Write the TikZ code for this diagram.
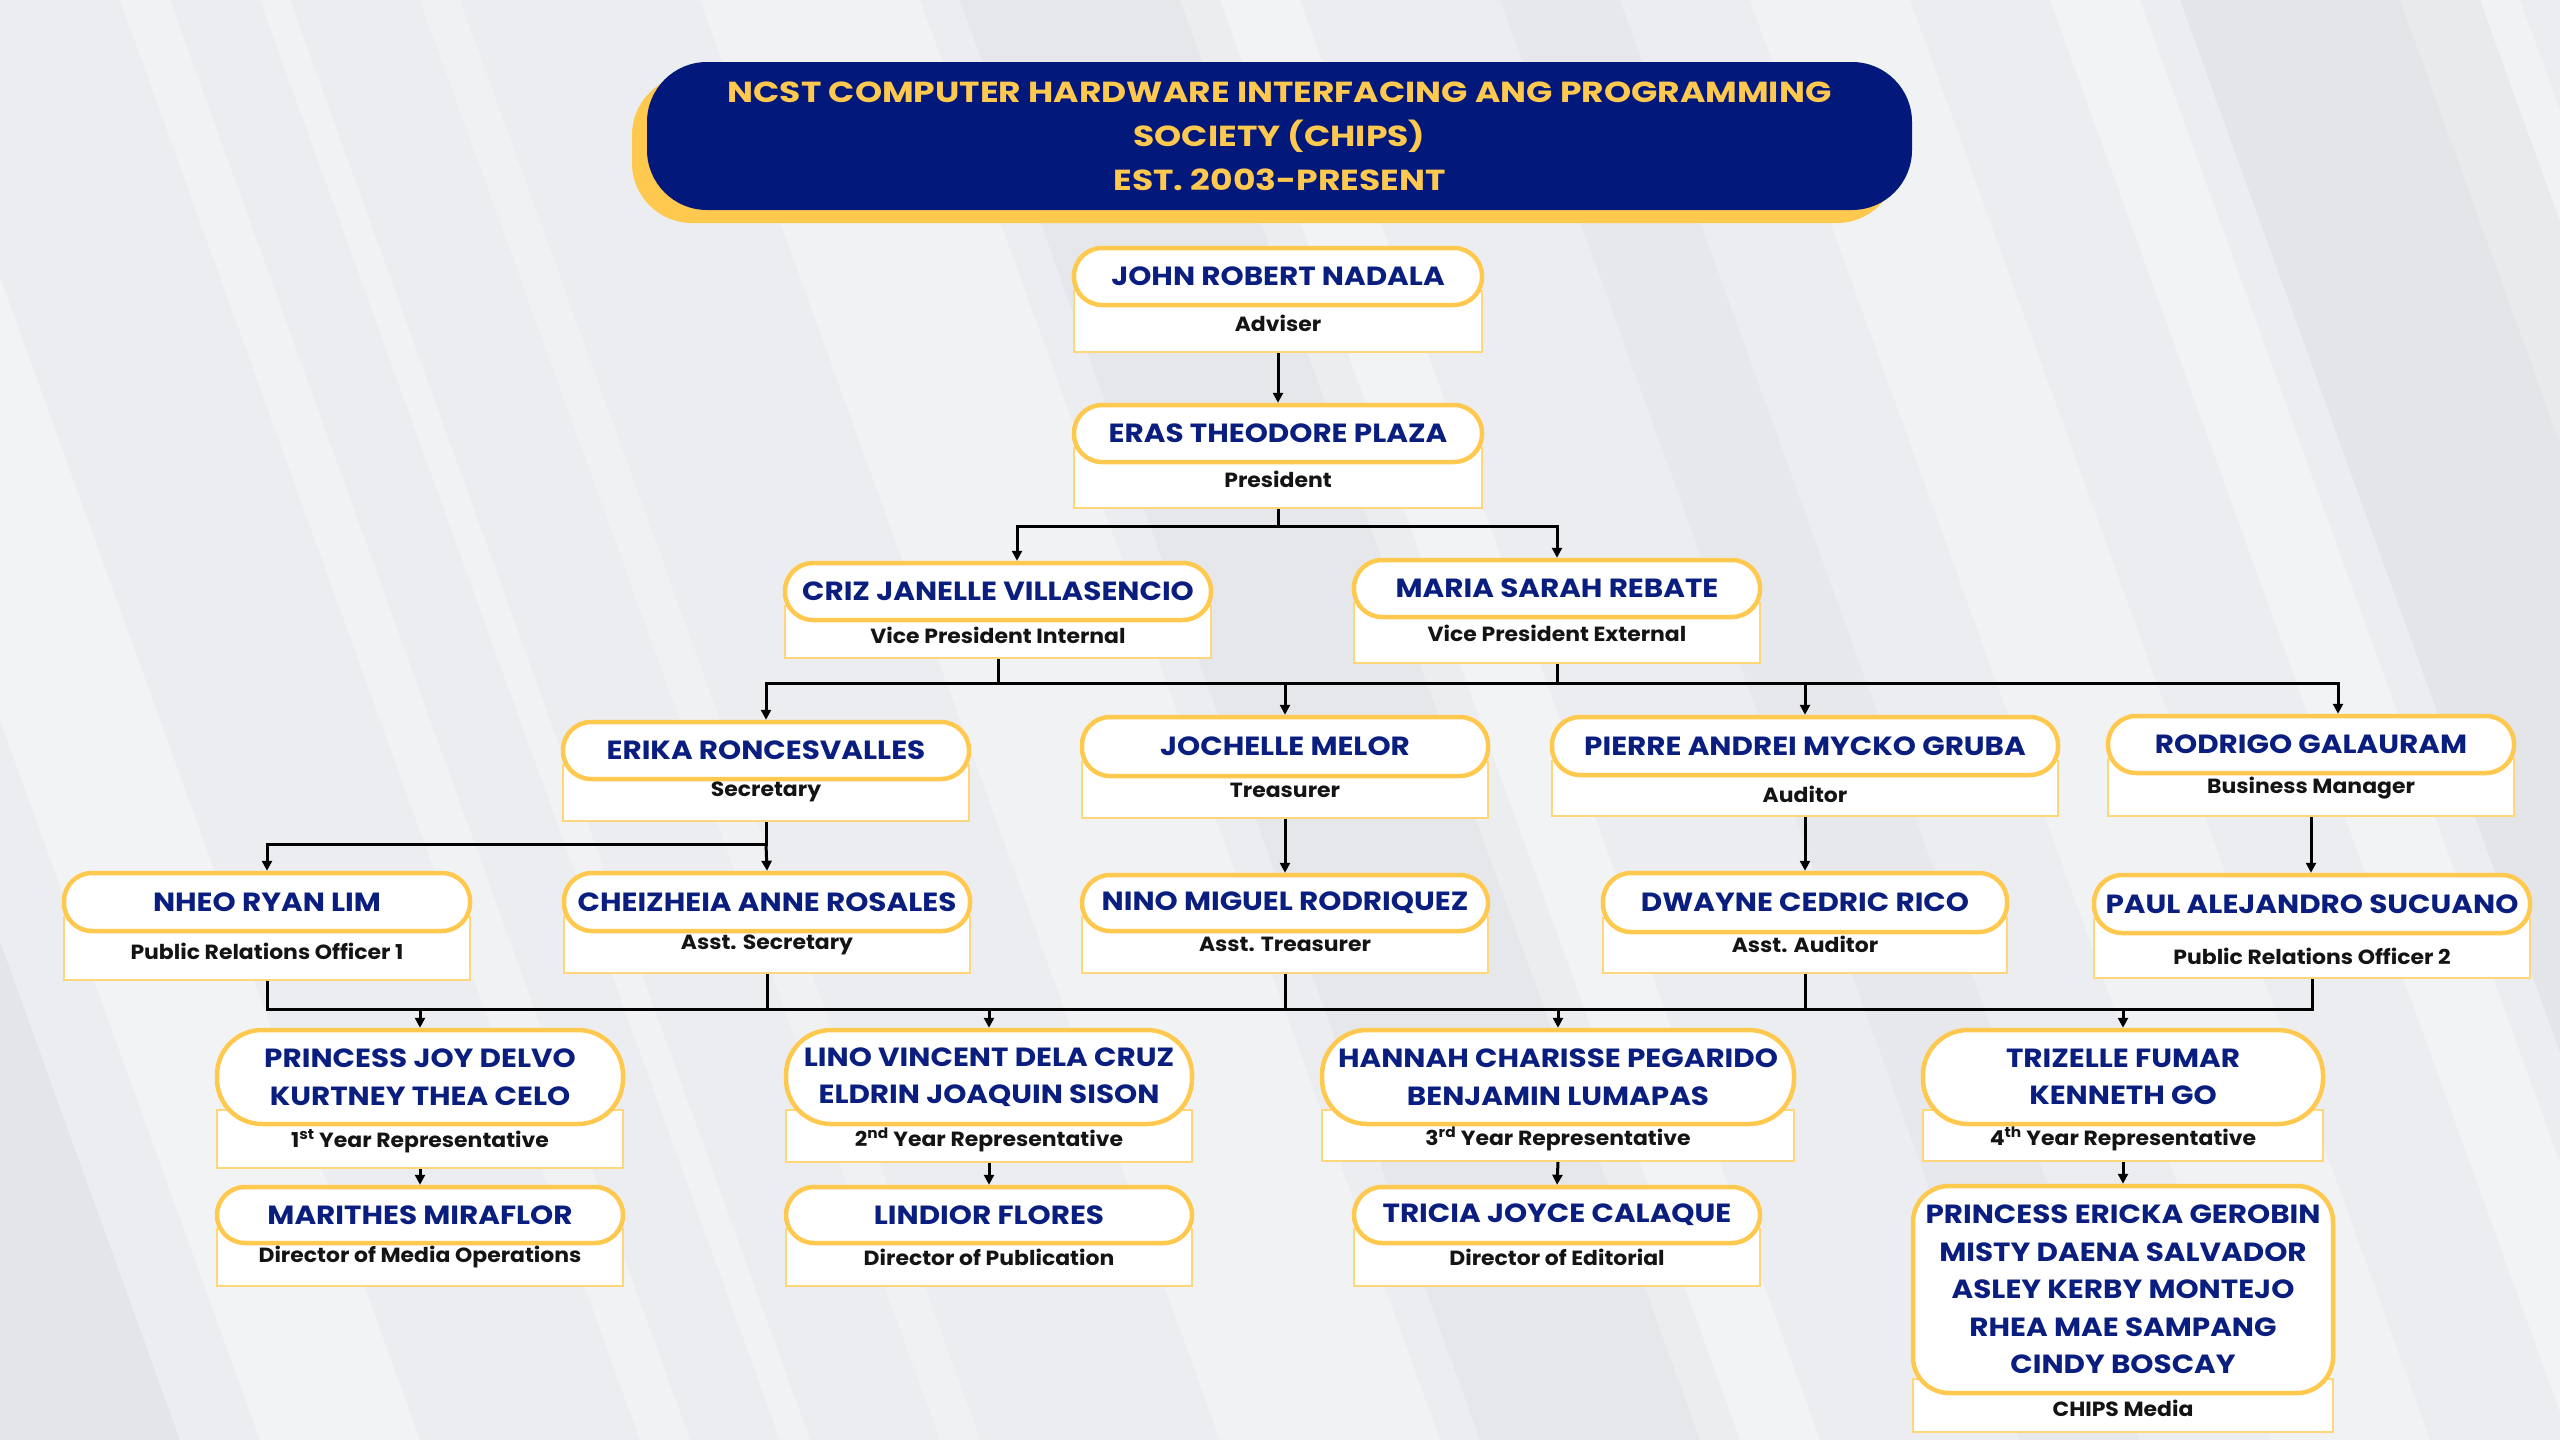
\documentclass[tikz,border=0pt]{standalone}
\usepackage{fontspec}
\setmainfont{Poppins}
\newfontfamily\namefont{Poppins}[FakeStretch=1.12]
\newfontfamily\titlefont{Poppins}[FakeStretch=1.19]
\newfontfamily\rolefont{Poppins}[FakeStretch=1.07]
\usetikzlibrary{arrows.meta,calc}
\definecolor{navy}{HTML}{02187A}
\definecolor{namecol}{HTML}{0A1E80}
\definecolor{gold}{HTML}{FFC94F}
\definecolor{goldlt}{HTML}{FFD67A}
\definecolor{bgcol}{HTML}{ECEDF0}
\definecolor{rolecol}{HTML}{141414}
\tikzset{
  rectbox/.style={draw=goldlt, line width=2, fill=white, inner sep=0},
  pillextra/.style={},
  pillbox/.style={draw=gold, line width=4.5, fill=white, rounded corners=28, inner sep=0,
    text=namecol, align=center, font={\namefont\fontsize{26.3}{37.5}\selectfont\bfseries}, pillextra},
  roletext/.style={text=rolecol, font={\rolefont\fontsize{20.5}{23}\selectfont\bfseries}, inner sep=0},
  line/.style={draw=black, line width=3, line join=miter},
  arr/.style={line, -{Triangle[length=10,width=10]}},
}
\newcommand{\orgbox}[9]{%
  \node[rectbox, minimum width={2*#3}, minimum height={#6-#5+14}] (#1-r) at (#2,{(#5-14+#6)/2}) {};
  \node[pillbox, minimum width={2*#3}, minimum height={#5-#4}] (#1) at (#2,{(#4+#5)/2}) {#7};
  \node[roletext] (#1-t) at (#2,#9) {#8};
}
\begin{document}
\begin{tikzpicture}[x=1pt,y=-1pt]
\useasboundingbox (0,0) rectangle (2560,1440);
% background
\fill[bgcol] (0,0) rectangle (2560,1440);
\foreach \a/\w/\o in {-260/160/0.35,120/50/0.3,260/30/0.3,420/40/0.25,700/220/0.3,1180/120/0.35,1750/160/0.3,2050/90/0.35,2400/120/0.3}
  \fill[white,opacity=\o] (\a,0) -- (\a+\w,0) -- (\a+\w+520,1440) -- (\a+520,1440) -- cycle;
\foreach \a/\w/\o in {-520/180/0.03,960/260/0.025,2180/300/0.03,1500/120/0.02}
  \fill[black,opacity=\o] (\a,0) -- (\a+\w,0) -- (\a+\w+520,1440) -- (\a+520,1440) -- cycle;
% title
\node[fill=gold, rounded corners=60, minimum width=1265, minimum height=148, inner sep=0] (tshadow) at (1264.5,149) {};
\node[fill=navy, rounded corners=60, minimum width=1265, minimum height=148, inner sep=0,
  text=gold, align=center, font={\titlefont\fontsize{29}{44}\selectfont\bfseries}] (title) at (1279.5,136)
  {NCST COMPUTER HARDWARE INTERFACING ANG PROGRAMMING\\SOCIETY (CHIPS)\\EST. 2003-PRESENT};
% nodes
\orgbox{adv}{1278}{204}{248}{305}{352}{JOHN ROBERT NADALA}{Adviser}{323}
\orgbox{pres}{1278}{204}{405}{462}{508}{ERAS THEODORE PLAZA}{President}{479}
\orgbox{vpi}{998}{213}{563}{620}{658}{CRIZ JANELLE VILLASENCIO}{Vice President Internal}{635}
\orgbox{vpe}{1557}{203}{560}{617}{663}{MARIA SARAH REBATE}{Vice President External}{633}
\orgbox{sec}{766}{203}{722}{779}{821}{ERIKA RONCESVALLES}{Secretary}{792}
\orgbox{tre}{1285}{203}{717}{776}{818}{JOCHELLE MELOR}{Treasurer}{790}
\orgbox{aud}{1805}{253}{717}{775}{816}{PIERRE ANDREI MYCKO GRUBA}{Auditor}{794}
\orgbox{bm}{2311}{203}{716}{773}{816}{RODRIGO GALAURAM}{Business Manager}{788}
\orgbox{pro1}{267}{203}{873}{931}{980}{NHEO RYAN LIM}{Public Relations Officer 1}{951}
\orgbox{asec}{767}{203}{873}{931}{973}{CHEIZHEIA ANNE ROSALES}{Asst. Secretary}{945}
\orgbox{atre}{1285}{203}{875}{931}{973}{NINO MIGUEL RODRIQUEZ}{Asst. Treasurer}{944}
\orgbox{aaud}{1805}{202}{873}{932}{973}{DWAYNE CEDRIC RICO}{Asst. Auditor}{944}
\orgbox{pro2}{2312}{218}{875}{933}{978}{PAUL ALEJANDRO SUCUANO}{Public Relations Officer 2}{956}
\tikzset{pillextra/.style={rounded corners=45}}
\orgbox{yr1}{420}{203}{1030}{1124}{1168}{PRINCESS JOY DELVO\\KURTNEY THEA CELO}{1\textsuperscript{st} Year Representative}{1141}
\orgbox{yr2}{989}{203}{1030}{1124}{1162}{LINO VINCENT DELA CRUZ\\ELDRIN JOAQUIN SISON}{2\textsuperscript{nd} Year Representative}{1140}
\orgbox{yr3}{1558}{236}{1030}{1124}{1161}{HANNAH CHARISSE PEGARIDO\\BENJAMIN LUMAPAS}{3\textsuperscript{rd} Year Representative}{1139}
\orgbox{yr4}{2123}{200}{1030}{1124}{1161}{TRIZELLE FUMAR\\KENNETH GO}{4\textsuperscript{th} Year Representative}{1139}
\tikzset{pillextra/.style={rounded corners=28}}
\orgbox{dmo}{420}{203}{1187}{1243}{1286}{MARITHES MIRAFLOR}{Director of Media Operations}{1257}
\orgbox{dpub}{989}{203}{1187}{1243}{1286}{LINDIOR FLORES}{Director of Publication}{1257}
\orgbox{ded}{1557}{203}{1187}{1243}{1286}{TRICIA JOYCE CALAQUE}{Director of Editorial}{1257}
\tikzset{pillextra/.style={rounded corners=36}}
\orgbox{media}{2123}{210}{1186}{1393}{1432}{PRINCESS ERICKA GEROBIN\\MISTY DAENA SALVADOR\\ASLEY KERBY MONTEJO\\RHEA MAE SAMPANG\\CINDY BOSCAY}{CHIPS Media}{1408}
% connectors
\coordinate (busA) at (0,526);
\coordinate (busB) at (0,683);
\coordinate (busC) at (0,844);
\coordinate (busD) at (0,1009);
\draw[arr] (adv-r.south) -- (pres.north);
\draw[arr] (pres-r.south) -- (pres-r.south |- busA) -| (1017,0 |- vpi.north);
\draw[arr] (pres-r.south |- busA) -| (vpe.north);
\draw[arr] (vpi-r.south) -- (vpi-r.south |- busB) -| (sec.north);
\draw[arr] (vpi-r.south |- busB) -| (tre.north);
\draw[line] (tre.north |- busB) -- (vpe-r.south |- busB);
\draw[arr] (vpe-r.south) -- (vpe-r.south |- busB) -| (aud.north);
\draw[arr] (vpe-r.south |- busB) -| (2338,0 |- bm.north);
\draw[arr] (sec-r.south) -- (sec-r.south |- busC) -| (pro1.north);
\draw[arr] (sec-r.south |- busC) -- (asec.north);
\draw[arr] (tre-r.south) -- (atre.north);
\draw[arr] (aud-r.south) -- (aaud.north);
\draw[arr] (bm-r.south) -- (2311,0 |- pro2.north);
\draw[line] (pro1-r.south) -- (pro1-r.south |- busD) -- (pro2-r.south |- busD) -- (pro2-r.south);
\draw[line] (asec-r.south) -- (asec-r.south |- busD);
\draw[line] (atre-r.south) -- (atre-r.south |- busD);
\draw[line] (aaud-r.south) -- (aaud-r.south |- busD);
\draw[arr] (yr1.north |- busD) -- (yr1.north);
\draw[arr] (yr2.north |- busD) -- (yr2.north);
\draw[arr] (yr3.north |- busD) -- (yr3.north);
\draw[arr] (yr4.north |- busD) -- (yr4.north);
\draw[arr] (yr1-r.south) -- (dmo.north);
\draw[arr] (yr2-r.south) -- (dpub.north);
\draw[arr] (yr3-r.south) -- (ded.north);
\draw[arr] (yr4-r.south) -- (media.north);
\end{tikzpicture}
\end{document}
